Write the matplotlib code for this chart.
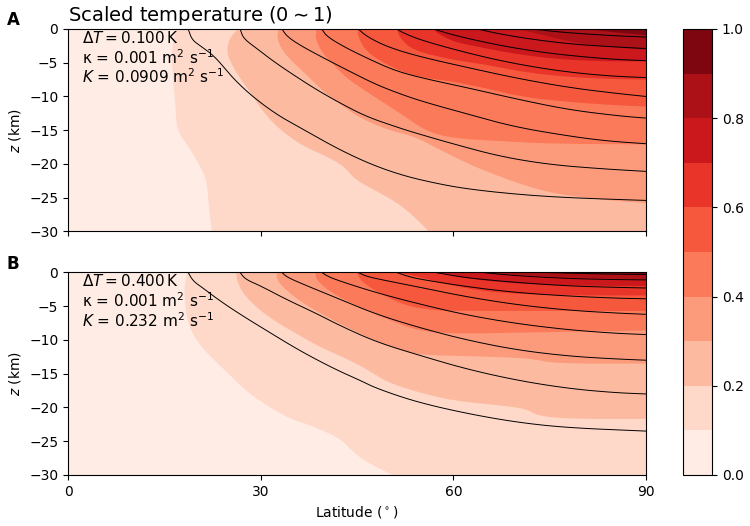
import numpy as np
import matplotlib
matplotlib.use("Agg")
import matplotlib.pyplot as plt
from matplotlib.colors import ListedColormap, BoundaryNorm
from matplotlib.cm import ScalarMappable

# contour levels of the scaled temperature
levels = np.round(np.arange(0, 1.01, 0.1), 1)

# panel A: edges of the filled bands, (latitude, depth)
a_filled = {
    0.1: [(16.7, 0), (16.1, -3.6), (16.4, -8), (16.7, -11), (16.9, -14.9), (18.7, -17.4),
          (20.1, -19.5), (21.6, -22.3), (21.9, -26.2), (22.4, -30)],
    0.2: [(26.5, 0), (25.1, -1.4), (24.7, -3.4), (25.5, -5.3), (26.8, -7.3), (28.3, -9.3),
          (29.6, -11.2), (31.2, -13.2), (33.5, -15.3), (36.7, -17.4), (40.3, -18.9),
          (42.9, -20.3), (44.7, -22.3), (47.6, -23.8), (51.2, -25.7), (53.8, -27.7), (56.2, -30)],
    0.3: [(32.8, 0), (32.5, -1.4), (33.5, -3.4), (35.4, -5.3), (37.7, -7.3), (39.8, -9.3),
          (42.4, -11.2), (45.5, -13.2), (49.6, -14.9), (53.8, -15.9), (56.9, -17.4),
          (60.0, -18.9), (63.1, -20.3), (65.7, -21.3), (69.9, -22.8), (75.1, -24.3),
          (82.9, -25.3), (90, -25.8)],
    0.4: [(38.7, 0), (38.5, -1.4), (39.5, -3.4), (41.3, -5.3), (43.4, -7.3), (46.5, -9.3),
          (49.6, -11.2), (52.5, -13.0), (55.9, -15.2), (60, -16.2), (67.3, -16.6),
          (75, -17.0), (90, -17.1)],
    0.5: [(45.0, 0), (45.3, -1.5), (46.5, -3.4), (49.6, -5.3), (53.8, -7.0), (60, -7.8),
          (65.2, -8.8), (70.4, -10), (76.6, -10.7), (83.4, -11.2), (90, -11.5)],
    0.6: [(51.2, 0), (51.7, -1.4), (53.8, -3.2), (60, -4.6), (65.2, -5.3), (70.4, -6.3),
          (76.6, -7.0), (83.4, -7.4), (90, -7.5)],
    0.7: [(56.9, 0), (57.5, -0.6), (60, -1.9), (65.2, -2.9), (70.4, -3.8), (76.6, -4.5),
          (83.4, -4.8), (90, -4.8)],
    0.8: [(70, 0), (74, -0.9), (78.2, -1.9), (83.4, -2.6), (90, -3.1)],
    0.9: [(81, 0), (85, -0.5), (90, -0.9)],
}

# panel A: black contour lines
a_lines = {
    0.1: [(18.7, 0), (19.3, -1.6), (20.6, -2.5), (22.9, -4.1), (25.2, -6.8), (28.3, -9.7),
          (32.5, -12.7), (36.5, -14.8), (41.3, -17.4), (46.5, -19.8), (51.7, -21.6),
          (56.9, -22.8), (62.1, -23.7), (69.9, -24.5), (77.7, -25.0), (90, -25.4)],
    0.2: [(26.8, 0), (27.3, -1.4), (29.4, -2.9), (32.0, -4.8), (35.1, -6.8), (38.7, -9.0),
          (42.4, -11.0), (46.5, -13.0), (51.7, -14.7), (54.8, -15.6), (59.5, -16.9),
          (67.3, -18.9), (75.1, -20.1), (82.9, -20.7), (90, -21.1)],
    0.3: [(33.3, 0), (34.1, -1.1), (36.1, -2.4), (39.8, -4.3), (43.9, -6.3), (48.1, -8.3),
          (52.8, -10.0), (56.5, -11.1), (62.6, -12.7), (69.5, -14.5), (78.2, -15.9),
          (84, -16.6), (90, -17.0)],
    0.4: [(39.5, 0), (40.3, -1.1), (42.9, -2.6), (46.5, -4.3), (50.7, -6.1), (54.8, -7.2),
          (62.6, -8.8), (70.4, -10.5), (78.2, -12.0), (86, -12.9), (90, -13.2)],
    0.5: [(45.2, 0), (46.5, -1.1), (49.6, -2.6), (54.3, -4.0), (62.6, -5.8), (70.4, -7.4),
          (78.2, -8.7), (85, -9.5), (90, -10.0)],
    0.6: [(51.2, 0), (52, -0.5), (54.8, -1.6), (60, -3.0), (65, -4.2), (70, -5.2),
          (75, -6.0), (80, -6.6), (85, -7.0), (90, -7.2)],
    0.7: [(56.9, 0), (60, -0.9), (65, -2.0), (70, -2.9), (75, -3.6), (80, -4.1),
          (85, -4.5), (90, -4.7)],
    0.8: [(63.7, 0), (67, -0.7), (72, -1.5), (78, -2.2), (84, -2.6), (90, -2.9)],
    0.9: [(72.2, 0), (76, -0.4), (80, -0.7), (85, -1.0), (90, -1.2)],
}

# panel B: edges of the filled bands
b_filled = {
    0.1: [(18.5, 0), (18.0, -3.0), (18.7, -7.9), (20.6, -10.9), (23.0, -13.2), (25.0, -15.0),
          (27.5, -17.4), (30.9, -19.7), (34.6, -21.7), (37.7, -22.6), (42.4, -24.6),
          (44.4, -26.6), (46.5, -28.1), (50.5, -30)],
    0.2: [(26.2, 0), (26.3, -1.2), (27.3, -3.2), (29.4, -5.2), (32.0, -7.1), (35.6, -9.1),
          (39.3, -11.1), (43.9, -13.0), (47.5, -14.9), (49.6, -16.2), (54.3, -17.7),
          (60, -19.0), (67.3, -19.7), (71.4, -20.2), (73, -21.2), (77.7, -21.7), (90, -21.7)],
    0.3: [(32.5, 0), (32.5, -1.2), (34.6, -3.2), (37.7, -5.2), (41.3, -7.1), (45.5, -9.1),
          (50.2, -11.1), (54.3, -12.2), (62.6, -12.4), (72.0, -12.7), (75.6, -13.5), (90, -13.5)],
    0.4: [(38.5, 0), (38.7, -1.2), (41.3, -3.2), (45.5, -5.2), (50.2, -7.1), (54.3, -8.6),
          (60, -9.1), (70.4, -8.9), (90, -8.6)],
    0.5: [(45.0, 0), (45.5, -1.2), (48.6, -3.2), (52.8, -5.0), (57, -5.6), (60, -5.7), (90, -5.7)],
    0.6: [(51.5, 0), (54.8, -0.7), (60, -2.0), (65, -2.8), (70.4, -3.2), (80, -3.4), (90, -3.4)],
    0.7: [(57.5, 0), (62.6, -1.0), (70.4, -1.7), (80, -1.95), (90, -2.0)],
    0.8: [(65, 0), (70, -0.4), (75.6, -0.7), (90, -1.0)],
    0.9: [(80, 0), (85, -0.15), (90, -0.25)],
}

# panel B: black contour lines
b_lines = {
    0.1: [(18.7, 0), (19.5, -1.3), (21.0, -2.3), (23.5, -4.1), (26.8, -6.2), (30.9, -8.6),
          (36.1, -11.6), (41.5, -14.3), (45.5, -16.0), (48.1, -17.2), (54.3, -19.2),
          (62.1, -20.9), (69.9, -22.2), (77.7, -23.0), (90, -23.5)],
    0.2: [(26.8, 0), (27.6, -1.0), (30, -2.0), (34, -4.0), (38.5, -6.0), (42.4, -7.9),
          (48, -10.3), (54.8, -12.3), (62, -14.3), (70, -16.0), (78, -17.2), (85, -17.8), (90, -18.0)],
    0.3: [(33.3, 0), (34.1, -0.7), (37, -1.9), (42.4, -4.0), (48, -6.2), (54.8, -8.2),
          (62, -10.0), (70, -11.5), (78, -12.4), (85, -12.8), (90, -13.0)],
    0.4: [(39.5, 0), (40.5, -0.6), (42.4, -1.3), (48, -3.0), (54.8, -4.7), (62, -6.3),
          (70, -7.6), (78, -8.5), (85, -9.0), (90, -9.2)],
    0.5: [(45.2, 0), (46.5, -0.6), (50, -1.3), (54.8, -2.2), (62, -3.6), (70, -4.8),
          (78, -5.6), (85, -6.0), (90, -6.2)],
    0.6: [(51.2, 0), (53, -0.6), (54.8, -1.0), (62, -2.1), (70, -3.0), (78, -3.5), (85, -3.8), (90, -3.9)],
    0.7: [(57.2, 0), (62, -0.8), (70, -1.5), (78, -2.0), (85, -2.2), (90, -2.3)],
    0.8: [(64.4, 0), (70, -0.5), (78, -0.9), (85, -1.05), (90, -1.1)],
    0.9: [(74.3, 0), (80, -0.15), (85, -0.25), (90, -0.3)],
}

a_text = [r"$\Delta T = 0.100\,\mathrm{K}$",
          "κ = 0.001 m$^2$ s$^{-1}$",
          "$K$ = 0.0909 m$^2$ s$^{-1}$"]
b_text = [r"$\Delta T = 0.400\,\mathrm{K}$",
          "κ = 0.001 m$^2$ s$^{-1}$",
          "$K$ = 0.232 m$^2$ s$^{-1}$"]

colors = plt.cm.Reds((levels[:-1] + levels[1:]) / 2)


def smooth(pts, n=2):
    # corner cutting, ends kept in place
    p = np.asarray(pts, float)
    for _ in range(n):
        q = 0.75 * p[:-1] + 0.25 * p[1:]
        r = 0.25 * p[:-1] + 0.75 * p[1:]
        mid = np.empty((2 * len(q), 2))
        mid[0::2] = q
        mid[1::2] = r
        p = np.vstack([p[:1], mid, p[-1:]])
    return p[:, 0], p[:, 1]


def draw_panel(ax, filled, lines, texts):
    ax.axhspan(-30, 0, color=colors[0], lw=0)
    for k, lev in enumerate(sorted(filled)):
        lat, z = smooth(filled[lev])
        # close the band against the pole side of the box
        ax.fill(np.r_[lat, 90, 90], np.r_[z, z[-1], 0], color=colors[k + 1], lw=0)
    for lev in sorted(lines):
        lat, z = smooth(lines[lev], 3)
        ax.plot(lat, z, color="k", lw=0.7)
    for i, t in enumerate(texts):
        ax.text(0.024, [0.931, 0.829, 0.733][i], t, transform=ax.transAxes,
                fontsize=11, va="baseline", ha="left")
    ax.set_xlim(0, 90)
    ax.set_ylim(-30, 0)
    ax.set_xticks([0, 30, 60, 90])
    ax.set_yticks([0, -5, -10, -15, -20, -25, -30])
    ax.set_ylabel("$z$ (km)")


fig = plt.figure(figsize=(7.5, 5.26), dpi=100)
ax_a = fig.add_axes([0.0907, 0.5599, 0.7707, 0.385])
ax_b = fig.add_axes([0.0907, 0.0970, 0.7707, 0.385])
cax = fig.add_axes([0.9107, 0.0970, 0.0387, 0.848])

draw_panel(ax_a, a_filled, a_lines, a_text)
draw_panel(ax_b, b_filled, b_lines, b_text)
ax_a.set_xticklabels([])
ax_b.set_xlabel(r"Latitude ($^\circ$)")
ax_a.set_title(r"Scaled temperature (0$\sim$1)", loc="left", fontsize=14)

fig.text(13 / 750, 1 - 20 / 526, "A", fontweight="bold", fontsize=12, ha="center", va="center")
fig.text(13 / 750, 1 - 264 / 526, "B", fontweight="bold", fontsize=12, ha="center", va="center")

sm = ScalarMappable(norm=BoundaryNorm(levels, 10), cmap=ListedColormap(colors))
cb = fig.colorbar(sm, cax=cax, ticks=[0, 0.2, 0.4, 0.6, 0.8, 1.0])
cb.minorticks_off()

fig.savefig("out.png", dpi=100)
